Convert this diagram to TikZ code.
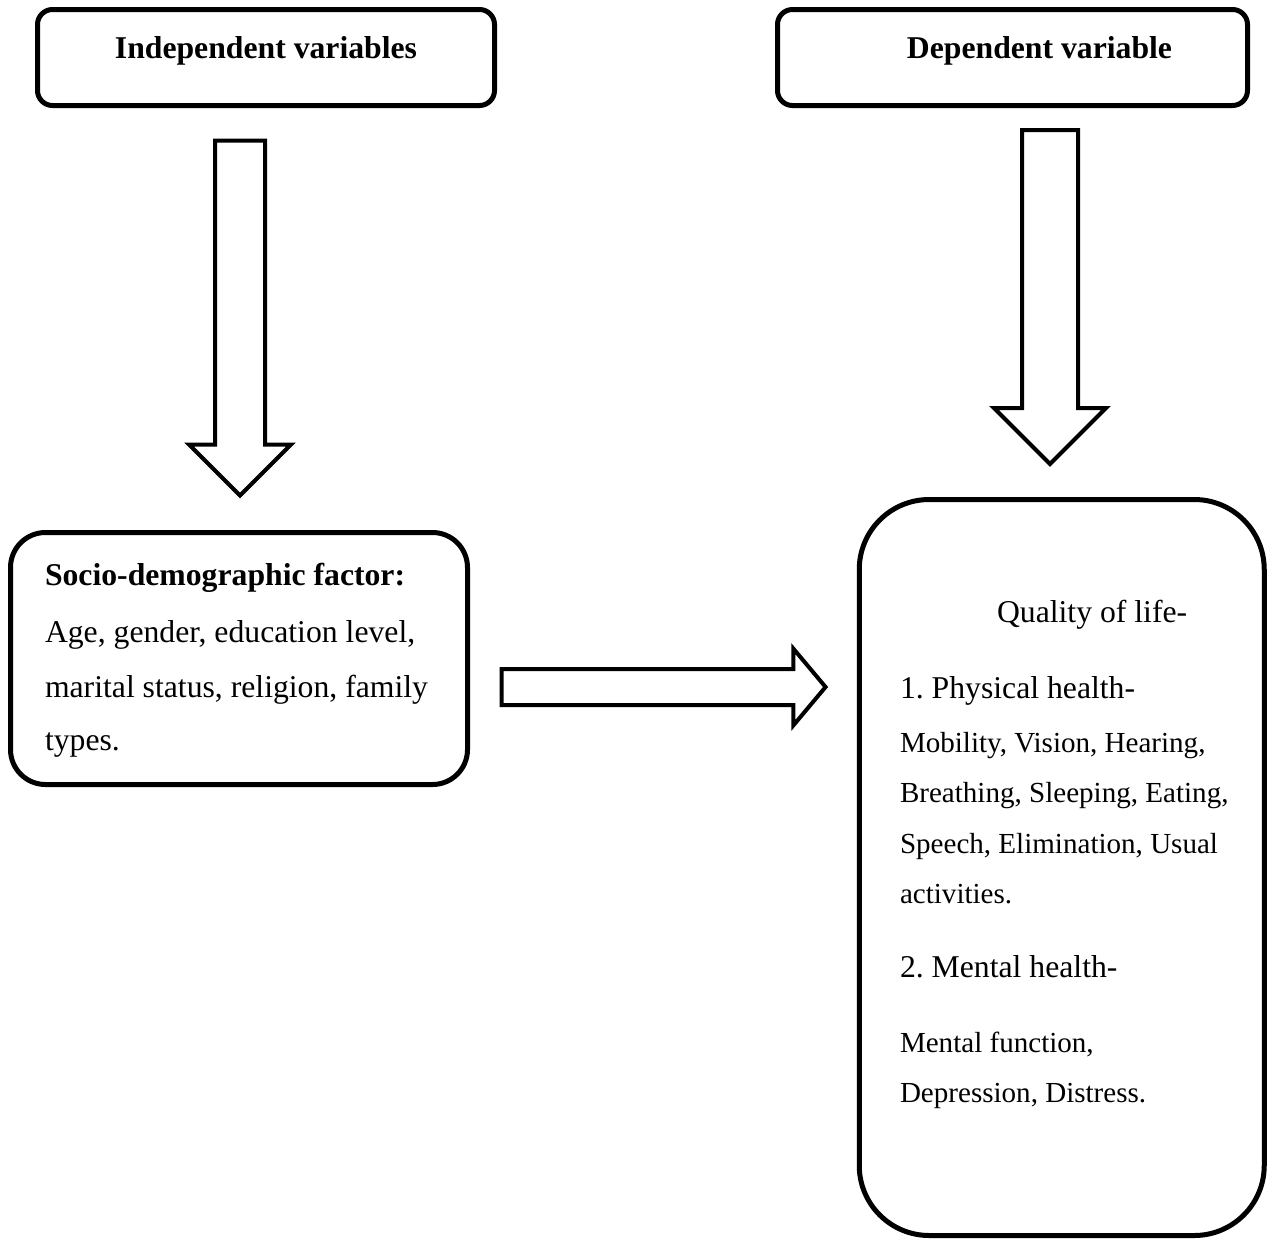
\documentclass[tikz,border=0pt]{standalone}
\usepackage{fontspec}
\setmainfont{Liberation Serif}
\usetikzlibrary{shapes.arrows}

\def\px{0.3785pt}

\begin{document}
\begin{tikzpicture}[x=\px,y=-\px,line join=miter]
          \tikzstyle{every node}=[inner sep=0pt,outer sep=0pt]
          \tikzstyle{varbox}=[draw=black,line width=5*\px,rectangle]
          \tikzstyle{fatarrow}=[draw=black,line width=4*\px,single arrow,single arrow tip angle=90,inner xsep=0pt]
          \tikzstyle{txt}=[anchor=base west,font=\fontsize{12}{14}\selectfont]
          \tikzstyle{smalltxt}=[anchor=base west,font=\fontsize{11}{13}\selectfont]
          \tikzstyle{headtxt}=[anchor=base,font=\fontsize{12}{14}\selectfont\bfseries]

          \useasboundingbox (0,0) rectangle (1268,1241);

          % boxes
          \node[varbox,rounded corners=15*\px,minimum width=457*\px,minimum height=96*\px]  (indep)  at (266,57.5)     {};
          \node[varbox,rounded corners=15*\px,minimum width=470*\px,minimum height=96*\px]  (dep)    at (1012.5,57.5)  {};
          \node[varbox,rounded corners=35*\px,minimum width=457*\px,minimum height=252*\px] (socio)  at (239,658.5)    {};
          \node[varbox,rounded corners=70*\px,minimum width=405*\px,minimum height=736*\px] (qol)    at (1061.75,867.5) {};

          % block arrows
          \node[fatarrow,rotate=-90,minimum height=355*\px,inner ysep=23*\px,single arrow head extend=26*\px]  (down1) at (240,305.5) {};
          \node[fatarrow,rotate=-90,minimum height=334*\px,inner ysep=26*\px,single arrow head extend=28*\px] (down2) at (1050,283)   {};
          \node[fatarrow,single arrow tip angle=100,minimum height=324*\px,inner ysep=16*\px,single arrow head extend=20.5*\px] (right1) at (656,687) {};

          % headings
          \node[headtxt] (indeplbl) at (266,58)    {Independent variables};
          \node[headtxt] (deplbl)   at (1039.5,58) {Dependent variable};

          % socio-demographic text
          \node[txt,font=\fontsize{12}{14}\selectfont\bfseries] (s0) at (45,585) {Socio-demographic factor:};
          \node[txt] (s1) at (45,642) {Age, gender, education level,};
          \node[txt] (s2) at (45,697) {marital status, religion, family};
          \node[txt] (s3) at (45,750) {types.};

          % quality of life text
          \node[txt]      (q0) at (997,622)  {Quality of life-};
          \node[txt]      (q1) at (900,698)  {1.\ Physical health-};
          \node[smalltxt] (q2) at (900,752)  {Mobility, Vision, Hearing,};
          \node[smalltxt] (q3) at (900,802)  {Breathing, Sleeping, Eating,};
          \node[smalltxt] (q4) at (900,853)  {Speech, Elimination, Usual};
          \node[smalltxt] (q5) at (900,903)  {activities.};
          \node[txt]      (q6) at (900,977)  {2.\ Mental health-};
          \node[smalltxt] (q7) at (900,1052) {Mental function,};
          \node[smalltxt] (q8) at (900,1102) {Depression, Distress.};

        \end{tikzpicture}
\end{document}
